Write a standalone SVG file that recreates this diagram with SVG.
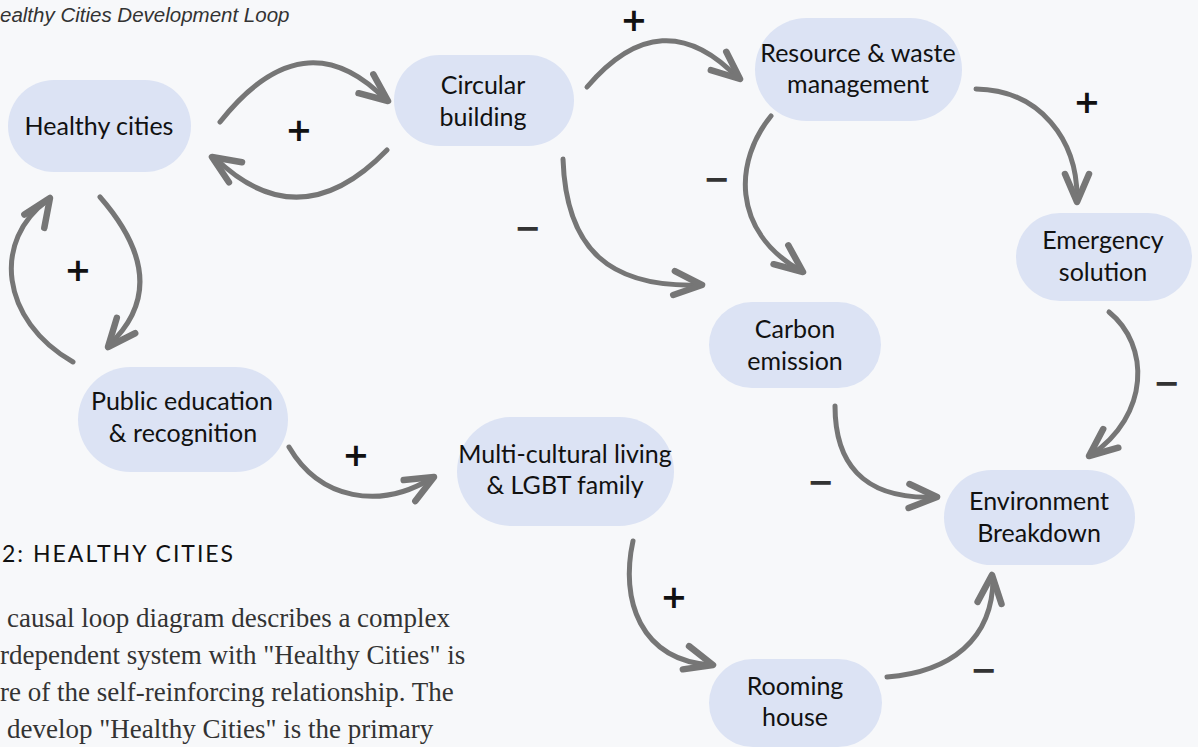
<svg xmlns="http://www.w3.org/2000/svg" xmlns:xlink="http://www.w3.org/1999/xlink" width="1198" height="747" viewBox="0 0 1198 747">
  <style>
    .node rect { fill: #dce3f4; }
    .node text { font-family: Lato, "Noto Sans", sans-serif; font-size: 25px; fill: #111; text-anchor: middle; }
    .link { fill: none; stroke: #767676; stroke-width: 5; stroke-linecap: round; }
    .head { fill: none; stroke: #767676; stroke-width: 6.5; stroke-linecap: round; stroke-linejoin: round; }
    .pol { font-family: "DejaVu Sans", sans-serif; font-weight: bold; font-size: 32px; text-anchor: middle; }
    .plus { fill: #111; }
    .minus { fill: #333; }
    .title { font-family: "Liberation Sans", Arial, sans-serif; font-style: italic; font-size: 20.5px; fill: #333; }
    .heading { font-family: Lato, "Noto Sans", sans-serif; font-size: 23px; letter-spacing: 2px; fill: #111; }
    .body { font-family: "Liberation Serif", "Times New Roman", serif; font-size: 27px; fill: #333; }
  </style>
  <defs>
    <!-- open chevron arrowhead, tip at origin pointing along +x -->
    <path id="head" class="head" d="M-28,-12 L0,0 L-28,12"/>
  </defs>

  <rect width="1198" height="747" fill="#f7f8fa"/>

  <text class="title" x="0" y="22">ealthy Cities Development Loop</text>

  <!-- nodes -->
  <g id="healthy-cities" class="node">
    <rect x="8" y="80" width="183" height="92" rx="46"/>
    <text x="99" y="135">Healthy cities</text>
  </g>
  <g id="circular-building" class="node">
    <rect x="394" y="55" width="180" height="91" rx="45.5"/>
    <text x="483" y="94">Circular</text>
    <text x="483" y="126">building</text>
  </g>
  <g id="resource-waste" class="node">
    <rect x="755" y="18" width="207" height="103" rx="51.5"/>
    <text x="858" y="62">Resource &amp; waste</text>
    <text x="858" y="93">management</text>
  </g>
  <g id="emergency-solution" class="node">
    <rect x="1016" y="213" width="176" height="88" rx="44"/>
    <text x="1103" y="249">Emergency</text>
    <text x="1103" y="281">solution</text>
  </g>
  <g id="carbon-emission" class="node">
    <rect x="709" y="302" width="172" height="86" rx="43"/>
    <text x="795" y="338">Carbon</text>
    <text x="795" y="370">emission</text>
  </g>
  <g id="environment-breakdown" class="node">
    <rect x="944" y="470" width="191" height="95" rx="47.5"/>
    <text x="1039" y="510">Environment</text>
    <text x="1039" y="542">Breakdown</text>
  </g>
  <g id="rooming-house" class="node">
    <rect x="709" y="659" width="173" height="88" rx="44"/>
    <text x="795" y="695">Rooming</text>
    <text x="795" y="726">house</text>
  </g>
  <g id="multicultural-living" class="node">
    <rect x="457" y="417" width="217" height="109" rx="54.5"/>
    <text x="565" y="463">Multi-cultural living</text>
    <text x="565" y="494">&amp; LGBT family</text>
  </g>
  <g id="public-education" class="node">
    <rect x="78" y="367" width="210" height="105" rx="52.5"/>
    <text x="182" y="410">Public education</text>
    <text x="183" y="442">&amp; recognition</text>
  </g>

  <!-- connectors -->
  <g id="connectors">
    <path class="link" d="M220,122 Q304,16 386,100"/>
    <use xlink:href="#head" href="#head" transform="translate(388,101) rotate(38)"/>

    <path class="link" d="M387,150 Q300,240 215,158"/>
    <use xlink:href="#head" href="#head" transform="translate(212,157) rotate(213)"/>

    <path class="link" d="M100,197 Q175,283 109,345"/>
    <use xlink:href="#head" href="#head" transform="translate(108,347) rotate(130)"/>

    <path class="link" d="M73,362 C0,320 -8,240 48,200"/>
    <use xlink:href="#head" href="#head" transform="translate(50,198) rotate(-56)"/>

    <path class="link" d="M587,87 Q662,-1 738,78"/>
    <use xlink:href="#head" href="#head" transform="translate(740,79) rotate(40)"/>

    <path class="link" d="M563,159 C566,250 610,288 700,285"/>
    <use xlink:href="#head" href="#head" transform="translate(702,285) rotate(4)"/>

    <path class="link" d="M771,116 C735,160 730,230 801,271"/>
    <use xlink:href="#head" href="#head" transform="translate(803,272) rotate(38)"/>

    <path class="link" d="M976,89 C1040,90 1078,140 1077,200"/>
    <use xlink:href="#head" href="#head" transform="translate(1077,202) rotate(90)"/>

    <path class="link" d="M1109,312 C1150,345 1150,415 1091,455"/>
    <use xlink:href="#head" href="#head" transform="translate(1089,456) rotate(141)"/>

    <path class="link" d="M835,406 C835,460 860,500 935,497"/>
    <use xlink:href="#head" href="#head" transform="translate(937,497) rotate(2)"/>

    <path class="link" d="M289,447 C320,500 380,510 432,478"/>
    <use xlink:href="#head" href="#head" transform="translate(434,477) rotate(-29)"/>

    <path class="link" d="M633,541 C620,600 640,660 711,665"/>
    <use xlink:href="#head" href="#head" transform="translate(713,665) rotate(15)"/>

    <path class="link" d="M887,677 C950,672 993,640 993,578"/>
    <use xlink:href="#head" href="#head" transform="translate(992,575) rotate(-85)"/>
  </g>

  <!-- link polarities -->
  <g id="polarities" class="pol">
    <text class="plus" x="299" y="141">+</text>
    <text class="plus" x="634" y="31">+</text>
    <text class="minus" x="528" y="239">−</text>
    <text class="minus" x="717" y="190">−</text>
    <text class="plus" x="1087" y="113">+</text>
    <text class="minus" x="1167" y="394">−</text>
    <text class="minus" x="821" y="493">−</text>
    <text class="plus" x="78" y="281">+</text>
    <text class="plus" x="356" y="466">+</text>
    <text class="plus" x="674" y="608">+</text>
    <text class="minus" x="984" y="681">−</text>
  </g>

  <!-- caption -->
  <text class="heading" x="2" y="562">2: HEALTHY CITIES</text>
  <text class="body" x="7" y="627">causal loop diagram describes a complex</text>
  <text class="body" x="0" y="664">rdependent system with "Healthy Cities" is</text>
  <text class="body" x="0" y="701">re of the self-reinforcing relationship. The</text>
  <text class="body" x="7" y="738">develop "Healthy Cities" is the primary</text>
</svg>
